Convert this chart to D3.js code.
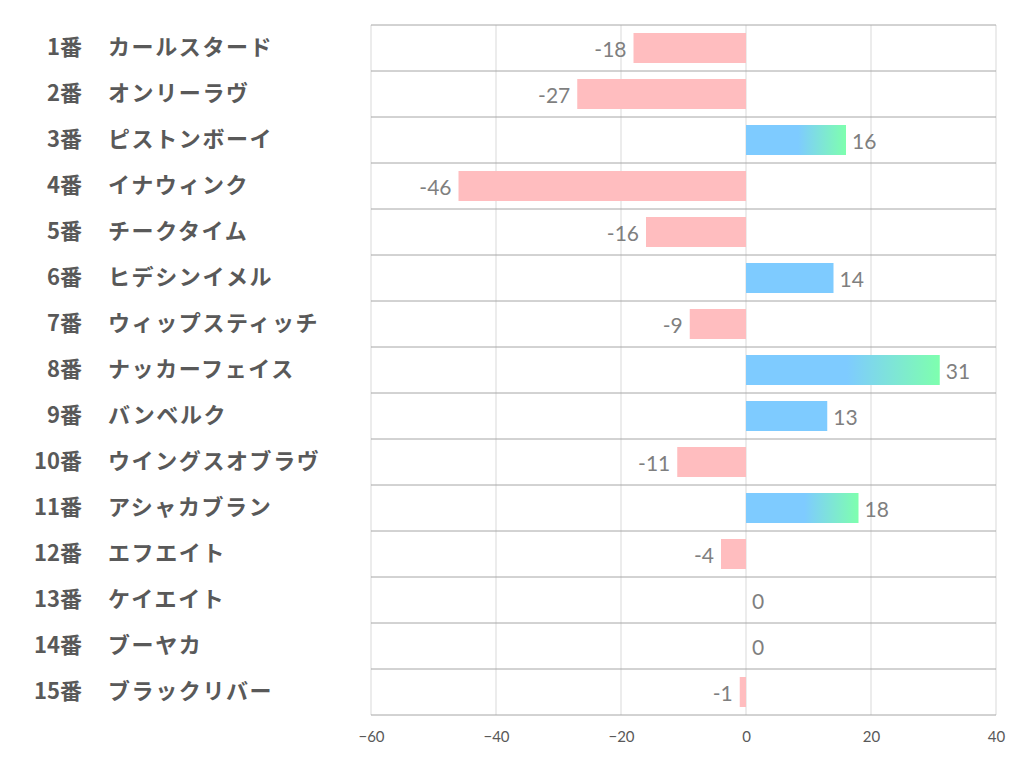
<!DOCTYPE html>
<html><head><meta charset="utf-8">
<script src="https://cdn.jsdelivr.net/npm/d3@7"></script>
<style>body{margin:0;background:#fff}</style>
</head><body>
<svg id="c" width="1022" height="782"></svg>
<script>
const numbers = ["1番","2番","3番","4番","5番","6番","7番","8番","9番","10番","11番","12番","13番","14番","15番"];
const names = ["カールスタード","オンリーラヴ","ピストンボーイ","イナウィンク","チークタイム","ヒデシンイメル","ウィップスティッチ","ナッカーフェイス","バンベルク","ウイングスオブラヴ","アシャカブラン","エフエイト","ケイエイト","ブーヤカ","ブラックリバー"];
const values = [-18,-27,16,-46,-16,14,-9,31,13,-11,18,-4,0,0,-1];
const highlighted = [false,false,true,false,false,false,false,true,false,false,true,false,false,false,false];
const ticks = [-60,-40,-20,0,20,40];

const svg = d3.select("#c");
const L = 371, R = 996, T = 25, B = 715;
const x = d3.scaleLinear().domain([-60,40]).range([L,R]);
const y = d3.scaleBand().domain(d3.range(values.length)).range([T,B]).paddingInner(0).paddingOuter(0);
const bh = 30;

const defs = svg.append("defs");
const g = defs.append("linearGradient").attr("id","grad").attr("x1","0%").attr("x2","100%").attr("y1","0%").attr("y2","0%");
g.append("stop").attr("offset","0%").attr("stop-color","#7ecbff");
g.append("stop").attr("offset","52%").attr("stop-color","#7ecbff");
g.append("stop").attr("offset","100%").attr("stop-color","#7effae");

// vertical grid
svg.append("g").selectAll("line").data(ticks).join("line")
  .attr("x1",d=>x(d)).attr("x2",d=>x(d)).attr("y1",T).attr("y2",B)
  .attr("stroke","#d9d9d9").attr("stroke-width",1);
// horizontal row lines
svg.append("g").selectAll("line").data(d3.range(values.length+1)).join("line")
  .attr("x1",L).attr("x2",R)
  .attr("y1",i=>T+i*y.step()).attr("y2",i=>T+i*y.step())
  .attr("stroke","#a6a6a6").attr("stroke-width",1);

// bars
svg.append("g").selectAll("rect").data(values).join("rect")
  .attr("x",d=>x(Math.min(0,d)))
  .attr("width",d=>Math.abs(x(d)-x(0)))
  .attr("y",(d,i)=>y(i)+(y.bandwidth()-bh)/2)
  .attr("height",bh)
  .attr("fill",(d,i)=>d<0?"#ffbdbf":(highlighted[i]?"url(#grad)":"#7ecbff"));

// value labels
svg.append("g").selectAll("text").data(values).join("text")
  .attr("x",d=>d<0?x(d)-7:x(d)+6)
  .attr("y",(d,i)=>y(i)+y.bandwidth()/2+2)
  .attr("dy","0.35em")
  .attr("text-anchor",d=>d<0?"end":"start")
  .attr("font-family","Lato, 'Open Sans', sans-serif")
  .attr("font-size",21).attr("fill","#7f7f7f")
  .text(d=>d);

// category labels
const lab = svg.append("g").attr("font-family","'Noto Sans CJK JP', sans-serif").attr("font-weight","bold").attr("font-size",22).attr("fill","#595959");
lab.selectAll("text.n").data(numbers).join("text").attr("class","n")
  .attr("x",82).attr("y",(d,i)=>y(i)+y.bandwidth()/2-1).attr("dy","0.35em")
  .attr("text-anchor","end").text(d=>d);
lab.selectAll("text.m").data(names).join("text").attr("class","m")
  .attr("x",108).attr("y",(d,i)=>y(i)+y.bandwidth()/2-1).attr("dy","0.35em")
  .attr("letter-spacing","1.6px")
  .attr("text-anchor","start").text(d=>d);

// axis
const ax = svg.append("g").attr("transform",`translate(0,${B})`)
  .call(d3.axisBottom(x).tickValues(ticks).tickSize(0).tickPadding(16).tickFormat(d3.format("d")));
ax.select(".domain").remove();
ax.selectAll("text").attr("font-family","Lato, 'Open Sans', sans-serif").attr("font-size",15).attr("fill","#595959");
</script>
</body></html>
